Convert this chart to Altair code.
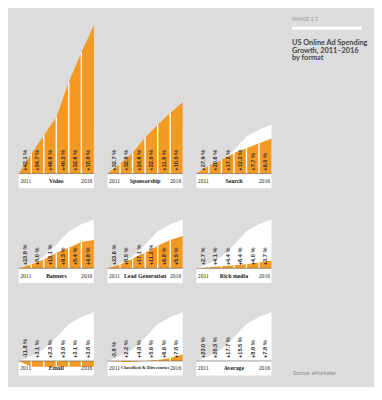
import altair as alt
import pandas as pd

# ---------------- data ----------------
formats = ["Video", "Sponsorship", "Search", "Banners", "Lead Generation",
           "Rich media", "Email", "Classified & Directories", "Average"]
first_year = "2011"
last_year = "2016"

# year-on-year growth labels 2011..2016 (%)
growth_video = ["+42.1", "+54.7", "+46.6", "+40.2", "+32.6", "+18.8"]
growth_sponsorship = ["+32.7", "+32.8", "+24.6", "+22.8", "+11.8", "+10.5"]
growth_search = ["+27.9", "+20.6", "+17.2", "+12.2", "+7.7", "+6.5"]
growth_banners = ["+23.8", "+8.0", "+13.1", "+9.3", "+5.4", "+4.8"]
growth_leadgen = ["+23.6", "+8.5", "+17.1", "+11.2", "+6.8", "+5.5"]
growth_richmedia = ["+2.7", "+4.1", "+4.4", "+6.4", "+4.0", "+3.7"]
growth_email = ["-11.8", "+3.1", "+2.3", "+3.8", "+3.1", "+3.8"]
growth_classified = ["-3.8", "+2.2", "+4.8", "+5.6", "+6.6", "+7.8"]
growth_average = ["+23.0", "+20.3", "+17.7", "+15.5", "+8.8", "+7.8"]

# cumulative growth level at column edges (start 2011 ... end 2016)
level_video = [0, 20, 39, 58, 94, 124, 152]
level_sponsorship = [0, 10, 21, 37, 50, 62, 73]
level_search = [0, 8, 14, 21, 26, 31, 36]
level_banners = [0, 4, 9, 16, 21, 27, 29]
level_leadgen = [0, 4, 10, 16, 23, 29, 33]
level_richmedia = [0, 1, 2, 3, 4, 6, 8]
level_email = [0, -6, -6, -6, -6, -6, -6]
level_classified = [0, -1, -1, 0, 1, 3, 7]
level_average = [0, 5, 12, 24, 38, 45, 50]

title_kicker = "IMAGE 1.2"
title_lines = ["US Online Ad Spending", "Growth, 2011\u20132016", "by format"]
source_text = "Source: eMarketer"

# ---------------- style ----------------
ORANGE = "#f39a24"
BG = "#dcdcdc"
LABEL_FONT = "Liberation Sans"
STRIP_FONT = "Liberation Serif"
SANS = "Lato"
W = 77
STRIP = 15
GAP = 12
NAME_SIZE = {"Classified & Directories": 4.9}


def panel(name, growth, level, ymax):
    ymin = -STRIP
    h = ymax - ymin
    xs = alt.Scale(domain=[0, 6], nice=False, zero=False)
    ys = alt.Scale(domain=[ymin, ymax], nice=False, zero=False)

    def X(f):
        return alt.X(f, type="quantitative", scale=xs, axis=None)

    def Y(f):
        return alt.Y(f, type="quantitative", scale=ys, axis=None)

    def XD(v):
        return alt.XDatum(v, type="quantitative", scale=xs, axis=None)

    def YD(v):
        return alt.YDatum(v, type="quantitative", scale=ys, axis=None)

    lv = level if level is not None else [0] * 7
    one = pd.DataFrame({"k": [0]})
    edges = pd.DataFrame({"pos": list(range(7)), "avg": level_average, "lvl": lv})
    seps = pd.DataFrame({
        "pos": list(range(1, 6)),
        "lo": [min(0, v) for v in lv[1:6]],
        "hi": [max(0, v) for v in lv[1:6]],
    })
    labels = pd.DataFrame({"pos": [i + 0.5 for i in range(6)],
                           "label": [g + " %" for g in growth]})

    layers = []
    layers.append(alt.Chart(one).mark_rect(color="white").encode(
        x=XD(0), x2=alt.X2Datum(6), y=YD(0), y2=alt.Y2Datum(-STRIP)))
    layers.append(alt.Chart(edges).mark_area(color="white").encode(
        x=X("pos"), y=Y("avg"), y2=alt.Y2Datum(0)))
    if level is not None:
        layers.append(alt.Chart(edges).mark_area(color=ORANGE).encode(
            x=X("pos"), y=Y("lvl"), y2=alt.Y2Datum(0)))
        layers.append(alt.Chart(seps).mark_rule(color="white", strokeWidth=1.4).encode(
            x=X("pos"), y=Y("lo"), y2=alt.Y2("hi")))
    layers.append(alt.Chart(one).mark_rule(color="#555555", strokeWidth=0.6).encode(
        x=XD(0), x2=alt.X2Datum(6), y=YD(0)))
    layers.append(alt.Chart(labels).mark_text(
        angle=270, align="left", baseline="middle", dx=3, fontSize=5.8,
        fontWeight="bold", font=LABEL_FONT, color="#2b2b2b").encode(
        x=X("pos"), y=YD(0), text="label:N"))
    layers.append(alt.Chart(one).mark_text(
        text=first_year, align="left", baseline="middle", dx=1.5, fontSize=5.8,
        font=STRIP_FONT, color="#222222").encode(x=XD(0), y=YD(-STRIP / 2)))
    layers.append(alt.Chart(one).mark_text(
        text=name, align="center", baseline="middle",
        fontSize=NAME_SIZE.get(name, 6), fontWeight="bold",
        font=STRIP_FONT, color="#222222").encode(x=XD(3), y=YD(-STRIP / 2)))
    layers.append(alt.Chart(one).mark_text(
        text=last_year, align="right", baseline="middle", dx=-1.5, fontSize=5.8,
        font=STRIP_FONT, color="#222222").encode(x=XD(6), y=YD(-STRIP / 2)))
    return alt.layer(*layers).properties(width=W, height=h)


def title_panel(h):
    base = alt.Chart(pd.DataFrame({"k": [0]}))
    parts = [
        base.mark_text(text=title_kicker, align="left", baseline="middle", fontSize=5.5,
                       font=SANS, color="#9a9a9a").encode(x=alt.value(8), y=alt.value(5)),
        base.mark_rule(color="white", strokeWidth=3).encode(
            x=alt.value(8), x2=alt.value(79), y=alt.value(14)),
    ]
    for i, t in enumerate(title_lines):
        parts.append(base.mark_text(text=t, align="left", baseline="middle", fontSize=7.5,
                                    fontWeight="bold", font=SANS, color="#474747").encode(
            x=alt.value(8), y=alt.value(29 + 8 * i)))
    return alt.layer(*parts).properties(width=80, height=h)


def source_panel(h):
    base = alt.Chart(pd.DataFrame({"k": [0]}))
    return base.mark_text(text=source_text, align="left", baseline="middle", fontSize=5.5,
                          font=SANS, color="#8a8a8a").encode(
        x=alt.value(9), y=alt.value(h - 3)).properties(width=80, height=h)


Y1, Y2, Y3 = 163, 64, 62

row1 = alt.hconcat(
    panel(formats[0], growth_video, level_video, Y1),
    panel(formats[1], growth_sponsorship, level_sponsorship, Y1),
    panel(formats[2], growth_search, level_search, Y1),
    title_panel(Y1 + STRIP),
    spacing=GAP)
row2 = alt.hconcat(
    panel(formats[3], growth_banners, level_banners, Y2),
    panel(formats[4], growth_leadgen, level_leadgen, Y2),
    panel(formats[5], growth_richmedia, level_richmedia, Y2),
    spacing=GAP)
row3 = alt.hconcat(
    panel(formats[6], growth_email, level_email, Y3),
    panel(formats[7], growth_classified, level_classified, Y3),
    panel(formats[8], growth_average, None, Y3),
    source_panel(Y3 + STRIP),
    spacing=GAP)

chart = alt.vconcat(row1, row2, row3, spacing=18).properties(
    padding={"left": 10, "top": 2, "right": 6, "bottom": 6},
    background=BG,
).configure_view(stroke=None)

chart.save("out.html", embed_options={"renderer": "svg", "actions": False})
